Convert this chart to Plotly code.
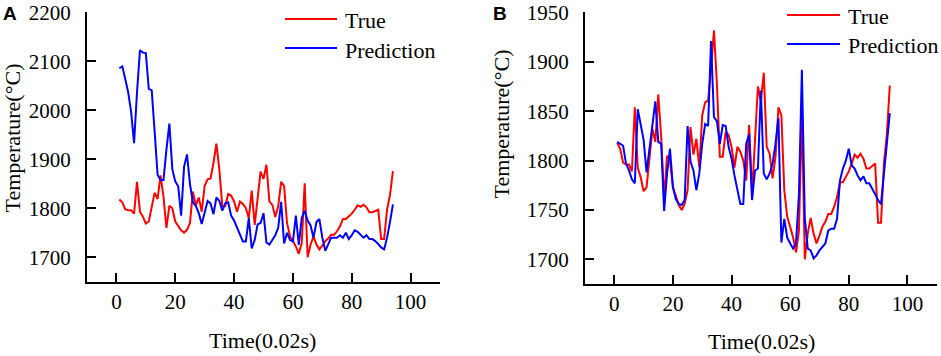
import plotly.graph_objects as go

W, H = 941, 356

time_steps = list(range(1, 95))

true_temp = [1818, 1812, 1798, 1796, 1796, 1789, 1854, 1793, 1783, 1769,
             1773, 1800, 1832, 1819, 1867, 1824, 1760, 1805, 1800, 1773,
             1763, 1755, 1750, 1756, 1770, 1834, 1806, 1822, 1793, 1846,
             1859, 1861, 1893, 1932, 1878, 1804, 1804, 1829, 1826, 1814,
             1793, 1814, 1809, 1800, 1780, 1836, 1766, 1817, 1875, 1860,
             1889, 1814, 1807, 1782, 1804, 1854, 1846, 1770, 1743, 1733,
             1722, 1707, 1729, 1851, 1700, 1726, 1742, 1726, 1716, 1724,
             1733, 1738, 1746, 1746, 1753, 1763, 1778, 1778, 1783, 1789,
             1797, 1806, 1803, 1807, 1802, 1792, 1792, 1795, 1797, 1737,
             1737, 1797, 1827, 1876]

pred_a = [2086, 2090, 2064, 2037, 1997, 1933, 2037, 2123, 2118, 2117,
          2044, 2041, 1956, 1868, 1858, 1858, 1920, 1973, 1880, 1855,
          1845, 1785, 1885, 1910, 1850, 1812, 1805, 1790, 1768, 1790,
          1815, 1810, 1788, 1822, 1815, 1795, 1810, 1812, 1785, 1775,
          1760, 1745, 1732, 1732, 1780, 1718, 1735, 1767, 1770, 1790,
          1730, 1726, 1735, 1745, 1760, 1813, 1728, 1750, 1735, 1732,
          1785, 1725, 1780, 1795, 1775, 1765, 1740, 1772, 1778, 1740,
          1713, 1725, 1740, 1740, 1740, 1745, 1740, 1750, 1737, 1745,
          1755, 1752, 1745, 1740, 1745, 1737, 1737, 1733, 1727, 1720,
          1716, 1740, 1772, 1808]

pred_b = [1819, 1817, 1815, 1797, 1790, 1781, 1777, 1852, 1838, 1821,
          1788, 1814, 1834, 1860, 1819, 1817, 1749, 1787, 1812, 1773,
          1761, 1756, 1755, 1760, 1835, 1799, 1790, 1770, 1787, 1817,
          1837, 1835, 1921, 1844, 1840, 1817, 1836, 1835, 1814, 1802,
          1785, 1771, 1756, 1756, 1817, 1827, 1760, 1790, 1792, 1871,
          1787, 1781, 1787, 1797, 1817, 1843, 1717, 1741, 1722, 1716,
          1711, 1716, 1766, 1892, 1741, 1711, 1709, 1701, 1704, 1709,
          1713, 1716, 1729, 1731, 1731, 1741, 1780, 1792, 1800, 1812,
          1795, 1792, 1785, 1780, 1784, 1777, 1777, 1772, 1766, 1760,
          1756, 1787, 1817, 1848]

x_ticks = [0, 20, 40, 60, 80, 100]
y_ticks_a = [1700, 1800, 1900, 2000, 2100, 2200]
y_ticks_b = [1700, 1750, 1800, 1850, 1900, 1950]

RED = "#ff0000"
BLUE = "#0000ff"
SERIF = "Liberation Serif, Times New Roman, serif"


def px(x):
    return x / W


def py(y):
    return 1 - y / H


fig = go.Figure()
fig.add_trace(go.Scatter(x=time_steps, y=true_temp, mode="lines",
                         line=dict(color=RED, width=2), xaxis="x", yaxis="y",
                         showlegend=False))
fig.add_trace(go.Scatter(x=time_steps, y=pred_a, mode="lines",
                         line=dict(color=BLUE, width=2), xaxis="x", yaxis="y",
                         showlegend=False))
fig.add_trace(go.Scatter(x=time_steps, y=true_temp, mode="lines",
                         line=dict(color=RED, width=2), xaxis="x2", yaxis="y2",
                         showlegend=False))
fig.add_trace(go.Scatter(x=time_steps, y=pred_b, mode="lines",
                         line=dict(color=BLUE, width=2), xaxis="x2", yaxis="y2",
                         showlegend=False))

axis_common = dict(showgrid=False, zeroline=False, showline=True,
                   linecolor="black", linewidth=2, ticks="inside",
                   ticklen=9, tickwidth=2, tickcolor="black", automargin=False,
                   ticklabeloverflow="allow",
                   tickfont=dict(family=SERIF, size=21, color="black"))

fig.update_layout(
    width=W, height=H,
    margin=dict(l=0, r=0, t=0, b=0, autoexpand=False),
    paper_bgcolor="white", plot_bgcolor="white",
    showlegend=False,
    xaxis=dict(domain=[px(87), px(440)], range=[-10, 110], tickvals=x_ticks,
               anchor="y", **axis_common),
    yaxis=dict(domain=[py(281.7), py(12)], range=[1650, 2201], tickvals=y_ticks_a,
               anchor="x", ticklabelstandoff=10, **axis_common),
    xaxis2=dict(domain=[px(585), px(936.7)], range=[-10, 110], tickvals=x_ticks,
                anchor="y2", **axis_common),
    yaxis2=dict(domain=[py(284), py(12)], range=[1675, 1950.5], tickvals=y_ticks_b,
                anchor="x2", ticklabelstandoff=10, **axis_common),
)

annotations = []
shapes = []


def text(x, y, s, size=22, angle=0, xanchor="center", family=SERIF, bold=False):
    annotations.append(dict(
        x=px(x), y=py(y), xref="paper", yref="paper", text=f"<b>{s}</b>" if bold else s,
        showarrow=False, xanchor=xanchor, yanchor="middle", textangle=angle,
        font=dict(family=family, size=size, color="black")))


# panel labels
text(10, 13, "A", size=19, family="Liberation Sans, Arial, sans-serif", bold=True)
text(500, 14, "B", size=19, family="Liberation Sans, Arial, sans-serif", bold=True)

# axis titles
text(262.5, 340, "Time(0.02s)")
text(761, 341, "Time(0.02s)")
text(12, 138.5, "Temperature(°C)", angle=-90)
text(501, 124.5, "Temperature(°C)", angle=-90)

# legends
legends = [
    (285, 337, 343, 19, 48),
    (787, 840, 846, 15, 44),
]
for x0, x1, xt, y_true, y_pred in legends:
    shapes.append(dict(type="line", xref="paper", yref="paper",
                       x0=px(x0), x1=px(x1), y0=py(y_true), y1=py(y_true),
                       line=dict(color=RED, width=2)))
    shapes.append(dict(type="line", xref="paper", yref="paper",
                       x0=px(x0), x1=px(x1), y0=py(y_pred), y1=py(y_pred),
                       line=dict(color=BLUE, width=2)))
    text(xt, y_true + 2, "True", xanchor="left")
    text(xt, y_pred + 2, "Prediction", xanchor="left")

fig.update_layout(annotations=annotations, shapes=shapes)

fig.write_html(
    "out.html",
    config={"displayModeBar": False},
    post_script="document.body.style.margin='0';document.body.style.overflow='hidden';",
)
